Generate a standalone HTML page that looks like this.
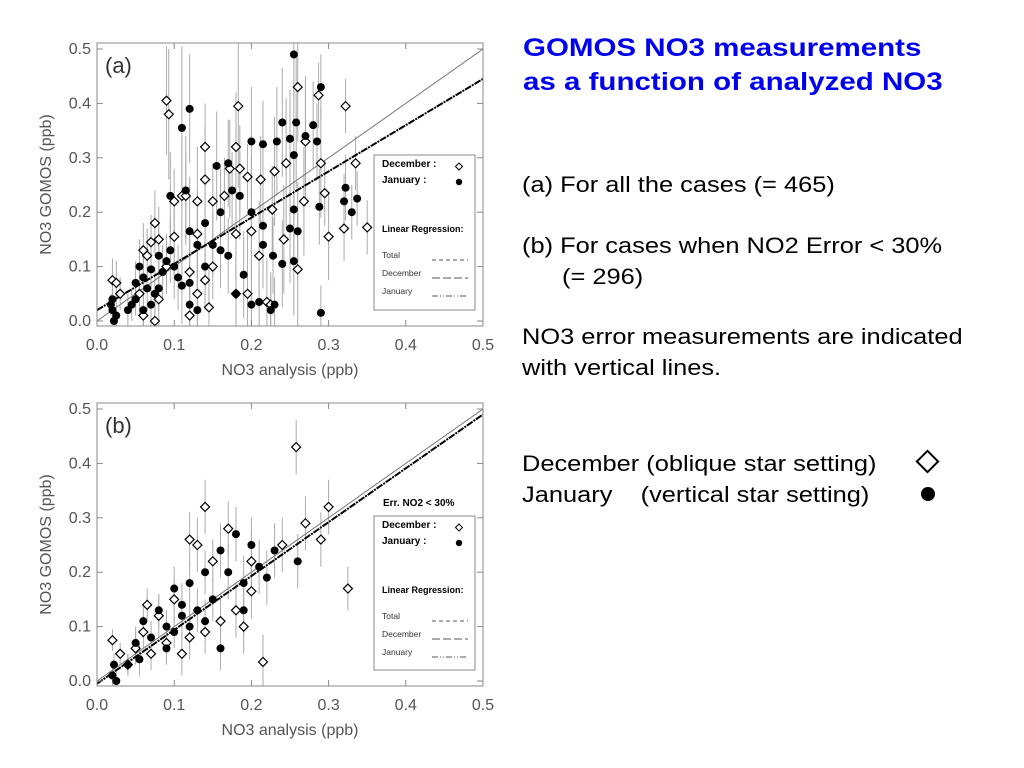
<!DOCTYPE html>
<html><head><meta charset="utf-8"><style>
body{margin:0;width:1024px;height:768px;background:#fff;overflow:hidden;font-family:"Liberation Sans",sans-serif;position:relative}
.t{position:absolute;font-size:22px;color:#000;white-space:nowrap;transform:scaleX(1.155);transform-origin:0 0}
.h{position:absolute;left:523px;font-size:25px;font-weight:bold;color:#0000ee;white-space:nowrap;transform:scaleX(1.18);transform-origin:0 0}
</style></head><body>
<svg id="chart" width="1024" height="768" style="position:absolute;left:0;top:0"></svg>
<div class="h" style="top:34px">GOMOS NO3 measurements</div>
<div class="h" style="top:68px">as a function of analyzed NO3</div>
<div class="t" style="left:522px;top:172px">(a) For all the cases (= 465)</div>
<div class="t" style="left:522px;top:233px">(b) For cases when NO2 Error &lt; 30%</div>
<div class="t" style="left:562px;top:264px">(= 296)</div>
<div class="t" style="left:522px;top:324px">NO3 error measurements are indicated</div>
<div class="t" style="left:522px;top:355px">with vertical lines.</div>
<div class="t" style="left:522px;top:451px">December (oblique star setting)</div>
<div class="t" style="left:522px;top:482px">January &nbsp;&nbsp;&nbsp;(vertical star setting)</div>
<div style="position:absolute;left:919px;top:453px;width:13px;height:13px;border:2px solid #000;transform:rotate(45deg)"></div>
<div style="position:absolute;left:921px;top:487px;width:14px;height:14px;border-radius:50%;background:#000"></div>
<script>
const ticksX=[0,0.1,0.2,0.3,0.4,0.5];
const ticksY=[0,0.1,0.2,0.3,0.4,0.5];
const decA=[[0.09,0.405,0.1],[0.093,0.38,0.12],[0.183,0.395,0.15],[0.26,0.43,0.1],[0.287,0.415,0.06],[0.322,0.395,0.05],[0.14,0.32,0.08],[0.18,0.32,0.1],[0.14,0.26,0.1],[0.185,0.28,0.08],[0.195,0.265,0.06],[0.245,0.29,0.12],[0.29,0.29,0.1],[0.335,0.29,0.05],[0.165,0.23,0.07],[0.172,0.28,0.09],[0.11,0.23,0.1],[0.115,0.23,0.08],[0.1,0.22,0.06],[0.13,0.22,0.1],[0.15,0.22,0.07],[0.227,0.205,0.08],[0.295,0.235,0.06],[0.3,0.155,0.08],[0.32,0.17,0.06],[0.35,0.172,0.05],[0.26,0.095,0.12],[0.242,0.15,0.1],[0.075,0.18,0.06],[0.2,0.165,0.09],[0.18,0.16,0.08],[0.18,0.05,0.1],[0.195,0.05,0.12],[0.22,0.035,0.08],[0.225,0.03,0.06],[0.145,0.025,0.07],[0.12,0.01,0.08],[0.075,0.0,0.05],[0.06,0.13,0.05],[0.07,0.145,0.05],[0.08,0.15,0.06],[0.1,0.155,0.07],[0.13,0.16,0.08],[0.15,0.1,0.06],[0.14,0.075,0.05],[0.13,0.05,0.06],[0.08,0.04,0.05],[0.02,0.075,0.04],[0.025,0.07,0.04],[0.03,0.05,0.03],[0.055,0.05,0.04],[0.06,0.01,0.03],[0.065,0.12,0.05],[0.09,0.1,0.05],[0.12,0.09,0.07],[0.21,0.12,0.1],[0.268,0.22,0.1],[0.27,0.33,0.12],[0.212,0.26,0.08],[0.23,0.275,0.1]];
const janA=[[0.255,0.49,0.08],[0.29,0.43,0.06],[0.12,0.39,0.1],[0.11,0.355,0.15],[0.24,0.365,0.1],[0.258,0.365,0.12],[0.28,0.36,0.08],[0.2,0.33,0.1],[0.215,0.325,0.08],[0.233,0.33,0.1],[0.25,0.335,0.09],[0.27,0.34,0.1],[0.285,0.33,0.07],[0.155,0.285,0.1],[0.17,0.29,0.08],[0.255,0.305,0.12],[0.095,0.23,0.08],[0.115,0.24,0.1],[0.175,0.24,0.07],[0.185,0.23,0.08],[0.32,0.22,0.05],[0.337,0.225,0.05],[0.322,0.245,0.06],[0.33,0.2,0.05],[0.255,0.205,0.1],[0.288,0.21,0.07],[0.14,0.18,0.1],[0.12,0.165,0.1],[0.16,0.2,0.08],[0.2,0.2,0.1],[0.215,0.175,0.08],[0.25,0.17,0.1],[0.26,0.165,0.09],[0.215,0.14,0.08],[0.228,0.12,0.07],[0.24,0.105,0.08],[0.255,0.11,0.1],[0.19,0.085,0.08],[0.18,0.05,0.07],[0.2,0.03,0.08],[0.21,0.035,0.06],[0.23,0.03,0.05],[0.225,0.02,0.06],[0.29,0.015,0.05],[0.14,0.1,0.07],[0.12,0.07,0.08],[0.11,0.065,0.07],[0.12,0.03,0.06],[0.13,0.02,0.06],[0.1,0.1,0.06],[0.09,0.11,0.05],[0.08,0.12,0.05],[0.07,0.095,0.05],[0.06,0.08,0.04],[0.05,0.07,0.04],[0.055,0.1,0.05],[0.065,0.06,0.04],[0.045,0.03,0.03],[0.05,0.04,0.03],[0.04,0.02,0.03],[0.02,0.02,0.02],[0.022,0.0,0.02],[0.025,0.01,0.02],[0.018,0.03,0.02],[0.02,0.04,0.02],[0.085,0.09,0.05],[0.095,0.13,0.06],[0.075,0.05,0.05],[0.16,0.13,0.07],[0.17,0.12,0.07],[0.13,0.14,0.08],[0.15,0.14,0.06],[0.105,0.08,0.06],[0.08,0.06,0.04],[0.07,0.03,0.04],[0.06,0.02,0.03]];
const decB=[[0.258,0.43,0.05],[0.14,0.32,0.05],[0.12,0.26,0.05],[0.17,0.28,0.05],[0.15,0.22,0.04],[0.13,0.25,0.05],[0.2,0.22,0.05],[0.24,0.25,0.05],[0.27,0.29,0.05],[0.29,0.26,0.05],[0.3,0.32,0.05],[0.325,0.17,0.04],[0.2,0.165,0.05],[0.215,0.035,0.05],[0.19,0.1,0.05],[0.16,0.11,0.05],[0.14,0.09,0.04],[0.1,0.15,0.04],[0.08,0.12,0.04],[0.06,0.09,0.03],[0.05,0.06,0.03],[0.03,0.05,0.02],[0.02,0.075,0.02],[0.04,0.03,0.02],[0.07,0.05,0.03],[0.11,0.05,0.04],[0.12,0.08,0.04],[0.18,0.13,0.05],[0.09,0.07,0.03],[0.065,0.14,0.03]];
const janB=[[0.18,0.27,0.05],[0.16,0.24,0.05],[0.2,0.25,0.05],[0.23,0.24,0.05],[0.26,0.22,0.05],[0.21,0.21,0.05],[0.17,0.2,0.05],[0.14,0.2,0.04],[0.12,0.18,0.04],[0.1,0.17,0.04],[0.19,0.18,0.05],[0.22,0.19,0.05],[0.15,0.15,0.04],[0.13,0.13,0.04],[0.11,0.12,0.04],[0.09,0.1,0.03],[0.08,0.13,0.03],[0.07,0.08,0.03],[0.06,0.11,0.03],[0.05,0.07,0.03],[0.055,0.04,0.03],[0.04,0.03,0.02],[0.02,0.01,0.02],[0.022,0.03,0.02],[0.025,0.0,0.02],[0.09,0.06,0.03],[0.1,0.09,0.03],[0.12,0.1,0.04],[0.14,0.11,0.04],[0.16,0.06,0.04],[0.19,0.13,0.05],[0.11,0.14,0.04]];
const regA=[0.02,0.85];
const regB=[-0.005,0.99];
const NS='http://www.w3.org/2000/svg';
const svg=document.getElementById('chart');
function mk(tag,at,parent){const e=document.createElementNS(NS,tag);for(const k in at)e.setAttribute(k,at[k]);(parent||svg).appendChild(e);return e;}
function panel(top,label,dec,jan,reg,name,extra){
  const L=97,R=483,T=top,B=top+283,y0=top+278,y5=top+6;
  const sx=v=>L+v/0.5*(R-L), sy=v=>y0-v/0.5*(y0-y5);
  const g=mk('g',{});
  
  
  const clip=mk('clipPath',{id:'c'+name},g);mk('rect',{x:L,y:T,width:R-L,height:B-T},clip);
  const pg=mk('g',{'clip-path':'url(#c'+name+')'},g);
  [...dec,...jan].forEach(p=>{const l=mk('line',{x1:sx(p[0]),x2:sx(p[0]),y1:sy(p[1]-p[2]),y2:sy(p[1]+p[2]),stroke:'#aaa','stroke-width':1},pg);
    });
  const one=mk('line',{x1:sx(0),y1:sy(0),x2:sx(0.5),y2:sy(0.5),stroke:'#777','stroke-width':1},pg);
  
  const rl=mk('line',{x1:sx(0),y1:sy(reg[0]),x2:sx(0.5),y2:sy(reg[0]+reg[1]*0.5),stroke:'#000','stroke-width':2,'stroke-dasharray':'7 1 2 1'},pg);
  
  dec.forEach(p=>{const x=sx(p[0]),y=sy(p[1]);const d=mk('polygon',{points:`${x},${y-4.5} ${x+4.5},${y} ${x},${y+4.5} ${x-4.5},${y}`,fill:'#fff',stroke:'#000','stroke-width':1.2},pg);
    });
  jan.forEach(p=>{const c=mk('circle',{cx:sx(p[0]),cy:sy(p[1]),r:4,fill:'#000'},pg);
    });
  mk('rect',{x:L,y:T,width:R-L,height:B-T,fill:'none',stroke:'#888','stroke-width':1},g);
  ticksX.forEach(v=>{mk('line',{x1:sx(v),x2:sx(v),y1:B,y2:B-6,stroke:'#888'},g);mk('line',{x1:sx(v),x2:sx(v),y1:T,y2:T+6,stroke:'#888'},g);
    const t=mk('text',{x:sx(v),y:B+24,'text-anchor':'middle','font-size':16,fill:'#555'},g);t.textContent=v.toFixed(1);
    });
  ticksY.forEach(v=>{mk('line',{x1:L,x2:L+6,y1:sy(v),y2:sy(v),stroke:'#888'},g);mk('line',{x1:R,x2:R-6,y1:sy(v),y2:sy(v),stroke:'#888'},g);
    const t=mk('text',{x:L-6,y:sy(v)+5,'text-anchor':'end','font-size':16,fill:'#555'},g);t.textContent=v.toFixed(1);
    });
  const xt=mk('text',{x:290,y:B+49,'text-anchor':'middle','font-size':16,fill:'#555'},g);xt.textContent='NO3 analysis (ppb)';
  
  const yt=mk('text',{x:0,y:0,'text-anchor':'middle','font-size':16,fill:'#555',transform:`translate(51,${(T+B)/2}) rotate(-90)`},g);yt.textContent='NO3 GOMOS (ppb)';
  
  const pl=mk('text',{x:105,y:T+30,'font-size':22,fill:'#333'},g);pl.textContent=label;
  
  const lt=extra?T+113:T+112, lb=B-16;
  const lg=mk('g',{},g);
  mk('rect',{x:374,y:lt,width:101,height:lb-lt,fill:'#fff',stroke:'#888'},lg);
  if(extra){const e=mk('text',{x:383,y:T+103,'font-size':10,'font-weight':'bold'},g);e.textContent='Err. NO2  < 30%';}
  const rows=[['December :',12],['January :',28]];
  rows.forEach(r=>{const t=mk('text',{x:382,y:lt+r[1],'font-size':10,'font-weight':'bold'},lg);t.textContent=r[0];});
  mk('polygon',{points:`${459},${lt+8} ${462.5},${lt+11.5} ${459},${lt+15} ${455.5},${lt+11.5}`,fill:'#fff',stroke:'#000'},lg);
  mk('circle',{cx:459,cy:lt+27,r:3.2},lg);
  const lr=mk('text',{x:382,y:lt+77,'font-size':9,'font-weight':'bold'},lg);lr.textContent='Linear Regression:';
  [['Total',103,'4 3'],['December',121,'8 3'],['January',139,'6 2 1 2 1 2']].forEach(r=>{
    const t=mk('text',{x:382,y:lt+r[1],'font-size':8.5,fill:'#333'},lg);t.textContent=r[0];
    mk('line',{x1:432,x2:468,y1:lt+r[1]+2,y2:lt+r[1]+2,stroke:'#555','stroke-dasharray':r[2]},lg);});
}
panel(43,'(a)',decA,janA,regA,'panel-a',false);
panel(403,'(b)',decB,janB,regB,'panel-b',true);
</script>
</body></html>
